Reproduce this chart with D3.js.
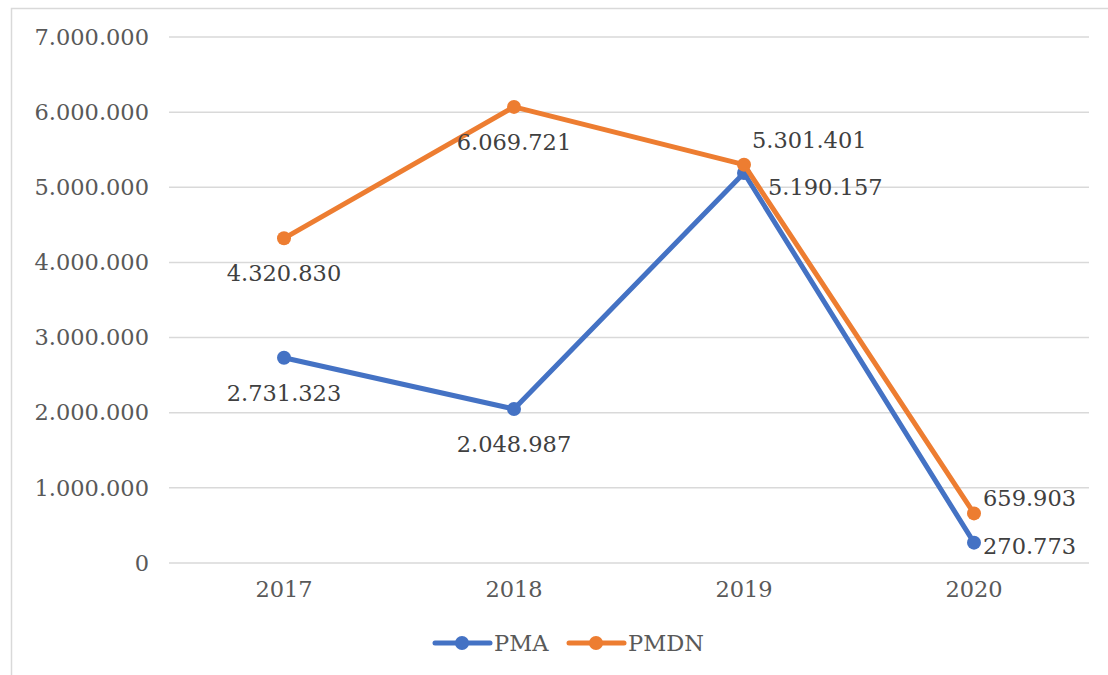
<!DOCTYPE html>
<html>
<head>
<meta charset="utf-8">
<script src="https://cdn.jsdelivr.net/npm/d3@7"></script>
<style>
  body { margin: 0; background: #fff; }
  text { font-family: "DejaVu Serif", serif; }
</style>
</head>
<body>
<div id="chart"></div>
<script>
// data
var years = ["2017", "2018", "2019", "2020"];
var pma = [2731323, 2048987, 5190157, 270773];
var pmdn = [4320830, 6069721, 5301401, 659903];
var yTicks = [0, 1000000, 2000000, 3000000, 4000000, 5000000, 6000000, 7000000];

// label placement relative to each point: [dx, dy, anchor]
var pmaLabel = [[0, 35, "middle"], [0, 35, "middle"], [24, 14, "start"], [9, 3, "start"]];
var pmdnLabel = [[0, 35, "middle"], [0, 35, "middle"], [8, -25, "start"], [9, -15, "start"]];

var W = 1108, H = 675;
var margin = {top: 37, right: 19, bottom: 112, left: 169};
var fontSize = "22.5px";

var svg = d3.select("#chart").append("svg")
    .attr("width", W)
    .attr("height", H);

// chart area border (only left and top are visible in the frame)
svg.append("rect")
    .attr("x", 11.5).attr("y", 8.5)
    .attr("width", W + 20).attr("height", H + 20)
    .attr("fill", "none")
    .attr("stroke", "#d9d9d9")
    .attr("stroke-width", 1.5);

var x = d3.scaleBand().domain(years).range([margin.left, W - margin.right]);
var y = d3.scaleLinear().domain([0, 7000000]).range([H - margin.bottom, margin.top]);

var fmt = function(v) {
    return d3.format(",")(v).replace(/,/g, ".");
};
var cxOf = function(i) { return x(years[i]) + x.bandwidth() / 2; };

// gridlines
svg.append("g")
    .selectAll("line")
    .data(yTicks)
    .enter().append("line")
    .attr("x1", margin.left).attr("x2", W - margin.right)
    .attr("y1", function(d) { return y(d); })
    .attr("y2", function(d) { return y(d); })
    .attr("stroke", "#d9d9d9")
    .attr("stroke-width", 1.5);

// y axis labels
var yAxis = d3.axisLeft(y).tickValues(yTicks).tickFormat(fmt).tickSize(0).tickPadding(20);
var gy = svg.append("g")
    .attr("transform", "translate(" + margin.left + ",0)")
    .call(yAxis);
gy.select(".domain").remove();
gy.selectAll("text")
    .attr("fill", "#595959")
    .style("font-size", fontSize)
    .style("font-family", "DejaVu Serif");

// x axis labels
var xAxis = d3.axisBottom(x).tickSize(0).tickPadding(18);
var gx = svg.append("g")
    .attr("transform", "translate(0," + (H - margin.bottom) + ")")
    .call(xAxis);
gx.select(".domain").remove();
gx.selectAll("text")
    .attr("fill", "#595959")
    .style("font-size", fontSize)
    .style("font-family", "DejaVu Serif");

var series = [
    {name: "PMA", values: pma, label: pmaLabel, color: "#4472c4"},
    {name: "PMDN", values: pmdn, label: pmdnLabel, color: "#ed7d31"}
];

var line = d3.line()
    .x(function(d, i) { return cxOf(i); })
    .y(function(d) { return y(d); });

series.forEach(function(s) {
    var g = svg.append("g");
    g.append("path")
        .datum(s.values)
        .attr("d", line)
        .attr("fill", "none")
        .attr("stroke", s.color)
        .attr("stroke-width", 5)
        .attr("stroke-linejoin", "round")
        .attr("stroke-linecap", "round");
    g.selectAll("circle")
        .data(s.values)
        .enter().append("circle")
        .attr("cx", function(d, i) { return cxOf(i); })
        .attr("cy", function(d) { return y(d); })
        .attr("r", 7)
        .attr("fill", s.color);
});

// data labels
series.forEach(function(s) {
    svg.append("g")
        .selectAll("text")
        .data(s.values)
        .enter().append("text")
        .text(fmt)
        .attr("fill", "#404040")
        .style("font-size", fontSize)
        .attr("dominant-baseline", "central")
        .attr("text-anchor", function(d, i) { return s.label[i][2]; })
        .attr("x", function(d, i) { return cxOf(i) + s.label[i][0]; })
        .attr("y", function(d, i) { return y(d) + s.label[i][1]; });
});

// legend
var legend = svg.append("g");
var legendX = [435, 569];
series.forEach(function(s, i) {
    var lg = legend.append("g").attr("transform", "translate(" + legendX[i] + ",643)");
    lg.append("line")
        .attr("x1", 0).attr("x2", 55)
        .attr("stroke", s.color)
        .attr("stroke-width", 5)
        .attr("stroke-linecap", "round");
    lg.append("circle").attr("cx", 27).attr("r", 7).attr("fill", s.color);
    lg.append("text")
        .attr("x", 59)
        .attr("dominant-baseline", "central")
        .attr("fill", "#595959")
        .style("font-size", fontSize)
        .text(s.name);
});
</script>
</body>
</html>
